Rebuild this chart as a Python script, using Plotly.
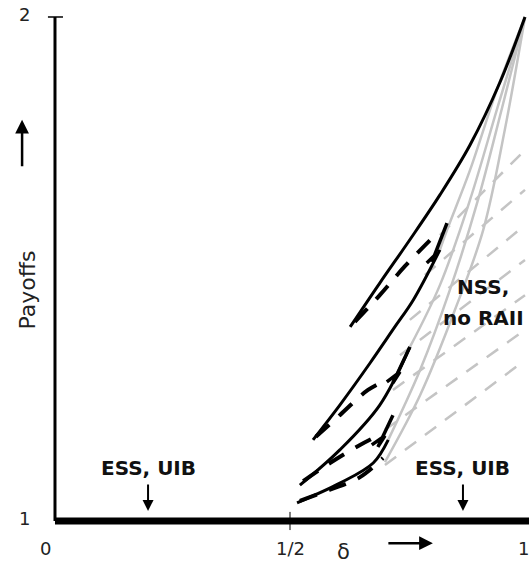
import plotly.graph_objects as go

# ---------------- data ----------------
# solid curves: black part, then grey continuation to (1, 2)
s1_black_x = [0.628, 0.691, 0.755, 0.819, 0.883, 0.947, 1.0]
s1_black_y = [1.385, 1.472, 1.558, 1.647, 1.746, 1.871, 2.0]

s2_black_x = [0.549, 0.606, 0.670, 0.723, 0.762, 0.819]
s2_black_y = [1.161, 1.230, 1.313, 1.385, 1.438, 1.538]
s2_grey_x = [0.819, 0.834, 0.883, 0.940, 1.0]
s2_grey_y = [1.538, 1.577, 1.696, 1.855, 2.0]

s3_black_x = [0.521, 0.606, 0.691, 0.755]
s3_black_y = [1.071, 1.141, 1.230, 1.345]
s3_grey_x = [0.755, 0.819, 0.883, 0.943, 1.0]
s3_grey_y = [1.345, 1.468, 1.637, 1.825, 2.0]

s4_black_x = [0.515, 0.606, 0.677, 0.709]
s4_black_y = [1.036, 1.075, 1.115, 1.161]
s4_grey_x = [0.709, 0.777, 0.840, 0.900, 0.951, 1.0]
s4_grey_y = [1.161, 1.300, 1.458, 1.637, 1.819, 2.0]

s5_grey_x = [0.702, 0.777, 0.851, 0.911, 0.957, 1.0]
s5_grey_y = [1.117, 1.250, 1.419, 1.577, 1.776, 2.0]

# dashed curves (black part)
d1_x = [0.638, 0.691, 0.745, 0.813]
d1_y = [1.395, 1.448, 1.506, 1.571]
d2_x = [0.555, 0.606, 0.666, 0.706]
d2_y = [1.167, 1.210, 1.260, 1.280]
d3_x = [0.528, 0.585, 0.649, 0.691]
d3_y = [1.079, 1.115, 1.151, 1.171]
d4_x = [0.521, 0.585, 0.649, 0.698]
d4_y = [1.040, 1.062, 1.087, 1.125]

# zig-zag joins
z1_x = [0.791, 0.811, 0.802, 0.834]
z1_y = [1.512, 1.530, 1.514, 1.591]
z2_x = [0.706, 0.734, 0.719, 0.755]
z2_y = [1.276, 1.296, 1.274, 1.345]
z3_x = [0.674, 0.702, 0.687, 0.719]
z3_y = [1.151, 1.169, 1.147, 1.210]

# grey dashed continuations (start, end at delta = 1)
g_start_x = [0.819, 0.787, 0.755, 0.734, 0.719, 0.702, 0.702]
g_start_y = [1.567, 1.488, 1.399, 1.329, 1.260, 1.181, 1.111]
g_end_x = [1.0, 1.0, 1.0, 1.0, 1.0, 1.0, 1.0]
g_end_y = [1.736, 1.657, 1.587, 1.518, 1.448, 1.379, 1.319]

x_ticks = [0, 0.5, 1]
x_tick_labels = ["0", "1/2", "1"]
y_ticks = [1, 2]
y_tick_labels = ["1", "2"]

GREY = "#c4c4c4"
FONT = "DejaVu Sans"

fig = go.Figure()

def add(x, y, color, width, dash="solid"):
    fig.add_trace(go.Scatter(x=x, y=y, mode="lines",
                             line=dict(color=color, width=width, dash=dash,
                                       shape="spline", smoothing=1.0),
                             hoverinfo="skip", showlegend=False))

# grey dashed
for xs, ys, xe, ye in zip(g_start_x, g_start_y, g_end_x, g_end_y):
    add([xs, xe], [ys, ye], GREY, 2.5, "14px,11px")
# grey solid
for gx, gy in [(s2_grey_x, s2_grey_y), (s3_grey_x, s3_grey_y),
               (s4_grey_x, s4_grey_y), (s5_grey_x, s5_grey_y)]:
    add(gx, gy, GREY, 2.5)
# black dashed
for dx, dy in [(d1_x, d1_y), (d2_x, d2_y), (d3_x, d3_y), (d4_x, d4_y)]:
    add(dx, dy, "black", 4, "18px,13px")
# black solid
for bx, by in [(s1_black_x, s1_black_y), (s2_black_x, s2_black_y),
               (s3_black_x, s3_black_y), (s4_black_x, s4_black_y)]:
    add(bx, by, "black", 3)
# zig-zags
for zx, zy in [(z1_x, z1_y), (z2_x, z2_y), (z3_x, z3_y)]:
    fig.add_trace(go.Scatter(x=zx, y=zy, mode="lines",
                             line=dict(color="black", width=3.5),
                             hoverinfo="skip", showlegend=False))

# axes drawn as shapes
fig.add_shape(type="line", x0=0, x1=1.02, y0=1, y1=1,
              line=dict(color="black", width=7), layer="above")
fig.add_shape(type="line", x0=0, x1=0, y0=1, y1=2,
              line=dict(color="black", width=3), layer="above")
fig.add_shape(type="line", x0=-0.015, x1=0.017, y0=2, y1=2,
              line=dict(color="black", width=1.5))
fig.add_shape(type="line", x0=0.5, x1=0.5, y0=0.982, y1=1.018,
              line=dict(color="black", width=1))

ann = []
for v, t in zip(x_ticks, x_tick_labels):
    xx = {0: -0.02, 0.5: 0.5, 1: 0.996}[v]
    ann.append(dict(x=xx, y=0.946, text=t, showarrow=False,
                    font=dict(family=FONT, size=18, color="#222")))
for v, t in zip(y_ticks, y_tick_labels):
    ann.append(dict(x=-0.064, y=v + 0.004, text=t, showarrow=False,
                    font=dict(family=FONT, size=18, color="#222")))

ann += [
    dict(x=0.613, y=0.938, text="δ", showarrow=False,
         font=dict(family=FONT, size=21, color="#222")),
    dict(x=0.804, y=0.956, ax=-46, ay=0, text="", showarrow=True,
         arrowhead=2, arrowsize=1.1, arrowwidth=2.5, arrowcolor="black"),
    dict(x=-0.059, y=1.458, text="Payoffs", textangle=-90, showarrow=False,
         font=dict(family=FONT, size=22, color="#222")),
    dict(x=-0.070, y=1.796, ax=0, ay=48, text="", showarrow=True,
         arrowhead=2, arrowsize=1.1, arrowwidth=2.5, arrowcolor="black"),
    dict(x=0.198, y=1.105, text="<b>ESS, UIB</b>", showarrow=False,
         font=dict(family=FONT, size=20, color="#111")),
    dict(x=0.198, y=1.020, ax=0, ay=-28, text="", showarrow=True,
         arrowhead=2, arrowsize=1.1, arrowwidth=2, arrowcolor="black"),
    dict(x=0.868, y=1.105, text="<b>ESS, UIB</b>", showarrow=False,
         font=dict(family=FONT, size=20, color="#111")),
    dict(x=0.868, y=1.020, ax=0, ay=-28, text="", showarrow=True,
         arrowhead=2, arrowsize=1.1, arrowwidth=2, arrowcolor="black"),
    dict(x=0.911, y=1.464, text="<b>NSS,</b>", showarrow=False,
         font=dict(family=FONT, size=20, color="#111")),
    dict(x=0.911, y=1.403, text="<b>no RAII</b>", showarrow=False,
         font=dict(family=FONT, size=20, color="#111")),
]

fig.update_layout(
    width=529, height=566,
    margin=dict(l=0, r=0, t=0, b=0),
    paper_bgcolor="white", plot_bgcolor="white",
    xaxis=dict(range=[-0.117, 1.0085], visible=False, fixedrange=True),
    yaxis=dict(range=[0.9107, 2.0337], visible=False, fixedrange=True),
    annotations=ann,
    showlegend=False,
)

fig.write_html("out.html")
